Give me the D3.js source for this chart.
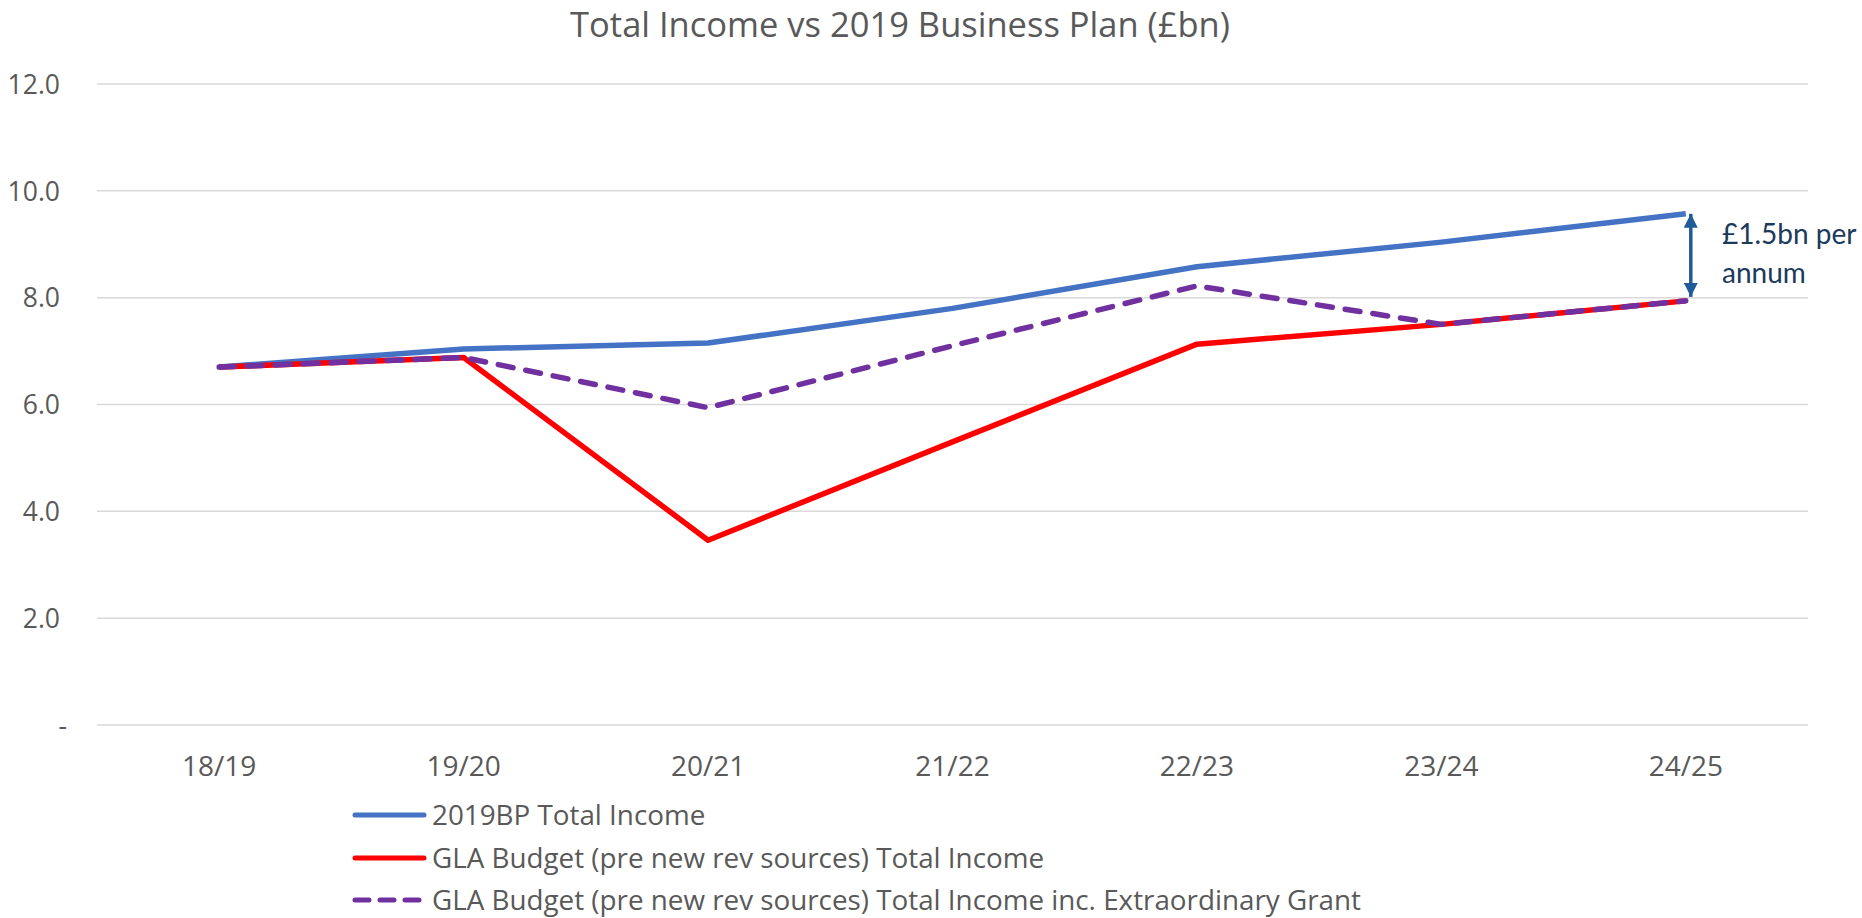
<!DOCTYPE html>
<html>
<head>
<meta charset="utf-8">
<script src="https://cdn.jsdelivr.net/npm/d3@7"></script>
<style>
  html, body { margin: 0; padding: 0; background: #fff; }
  svg { display: block; }
  text { font-family: "Open Sans", "Noto Sans", sans-serif; fill: #595959; }
</style>
</head>
<body>
<svg id="chart" width="1862" height="918"></svg>
<script>
const categories = ["18/19", "19/20", "20/21", "21/22", "22/23", "23/24", "24/25"];
const bp2019 = [6.70, 7.04, 7.15, 7.80, 8.58, 9.04, 9.57];
const glaBudget = [6.70, 6.88, 3.46, 5.30, 7.13, 7.50, 7.94];
const glaBudgetGrant = [6.70, 6.88, 5.94, 7.10, 8.22, 7.50, 7.94];
const yTicks = [0, 2, 4, 6, 8, 10, 12];
const seriesNames = [
  "2019BP Total Income",
  "GLA Budget (pre new rev sources) Total Income",
  "GLA Budget (pre new rev sources) Total Income inc. Extraordinary Grant"
];
const title = "Total Income vs 2019 Business Plan (£bn)";
const annotationLines = ["£1.5bn per", "annum"];

const svg = d3.select("#chart");
const x = d3.scaleBand().domain(categories).range([97, 1808]).paddingInner(0).paddingOuter(0);
const y = d3.scaleLinear().domain([0, 12]).range([725, 84]);
const cx = d => x(d) + x.bandwidth() / 2;

// Title
svg.append("text").attr("x", 900).attr("y", 37).attr("text-anchor", "middle")
  .style("font-size", "34.5px").text(title);

// Gridlines
svg.append("g").selectAll("line").data(yTicks).join("line")
  .attr("x1", 97).attr("x2", 1808)
  .attr("y1", d => y(d)).attr("y2", d => y(d))
  .attr("stroke", "#d9d9d9").attr("stroke-width", 1.5);

// Y axis labels
const yAxis = d3.axisLeft(y).tickValues(yTicks).tickSize(0).tickPadding(0)
  .tickFormat(d => d === 0 ? "-" : d3.format(".1f")(d));
const yg = svg.append("g").attr("transform", "translate(60,0)").call(yAxis);
yg.select(".domain").remove();
yg.selectAll("text").style("font-size", "26.5px").attr("fill", "#595959").attr("dy", "0.35em")
  .attr("x", d => d === 0 ? 7 : 0);

// X axis labels
const xAxis = d3.axisBottom(x).tickSize(0).tickPadding(0);
const xg = svg.append("g").attr("transform", "translate(0,756)").call(xAxis);
xg.select(".domain").remove();
xg.selectAll("text").style("font-size", "28px").attr("fill", "#595959").attr("dy", "0.71em");

// Lines
const line = d3.line().x((d, i) => cx(categories[i])).y(d => y(d));
svg.append("path").datum(bp2019).attr("d", line)
  .attr("fill", "none").attr("stroke", "#4472c4").attr("stroke-width", 5.5).attr("stroke-linejoin", "round");
svg.append("path").datum(glaBudget).attr("d", line)
  .attr("fill", "none").attr("stroke", "#ff0000").attr("stroke-width", 5.5).attr("stroke-linejoin", "round");
svg.append("path").datum(glaBudgetGrant).attr("d", line)
  .attr("fill", "none").attr("stroke", "#7030a0").attr("stroke-width", 5.5)
  .attr("stroke-dasharray", "15,13").attr("stroke-linecap", "round").attr("stroke-linejoin", "round");

// Annotation arrow
const defs = svg.append("defs");
["start", "end"].forEach(k => {
  defs.append("marker").attr("id", "arrow-" + k)
    .attr("viewBox", "0 0 10 10").attr("refX", 5).attr("refY", k === "end" ? 10 : 0)
    .attr("markerWidth", 4).attr("markerHeight", 4).attr("markerUnits", "strokeWidth")
    .attr("orient", "0")
    .append("path")
    .attr("d", k === "end" ? "M0,0 L10,0 L5,10 Z" : "M0,10 L10,10 L5,0 Z")
    .attr("fill", "#1f5b96");
});
const ax = cx(categories[6]) + 5;
svg.append("line").attr("x1", ax).attr("x2", ax)
  .attr("y1", y(bp2019[6])).attr("y2", y(glaBudget[6]) - 4)
  .attr("stroke", "#1f5b96").attr("stroke-width", 3.5)
  .attr("marker-start", "url(#arrow-start)").attr("marker-end", "url(#arrow-end)");
svg.append("g").selectAll("text").data(annotationLines).join("text")
  .attr("x", 1722).attr("y", (d, i) => 244 + i * 39)
  .style("font-family", "Lato, 'Open Sans', sans-serif").style("font-size", "28px")
  .style("fill", "#1b3a5c").text(d => d);

// Legend
const legendColors = ["#4472c4", "#ff0000", "#7030a0"];
const legendY = [815, 858, 900];
const lg = svg.append("g").selectAll("g").data(seriesNames).join("g")
  .attr("transform", (d, i) => `translate(0,${legendY[i]})`);
lg.append("line").attr("x1", 355).attr("x2", 424).attr("y1", 0).attr("y2", 0)
  .attr("stroke", (d, i) => legendColors[i]).attr("stroke-width", 5).attr("stroke-linecap", "round")
  .attr("stroke-dasharray", (d, i) => i === 2 ? "14,11" : null);
lg.append("text").attr("x", 432).attr("y", 0).attr("dy", "0.35em")
  .style("font-size", "27.8px").text(d => d);
</script>
</body>
</html>
